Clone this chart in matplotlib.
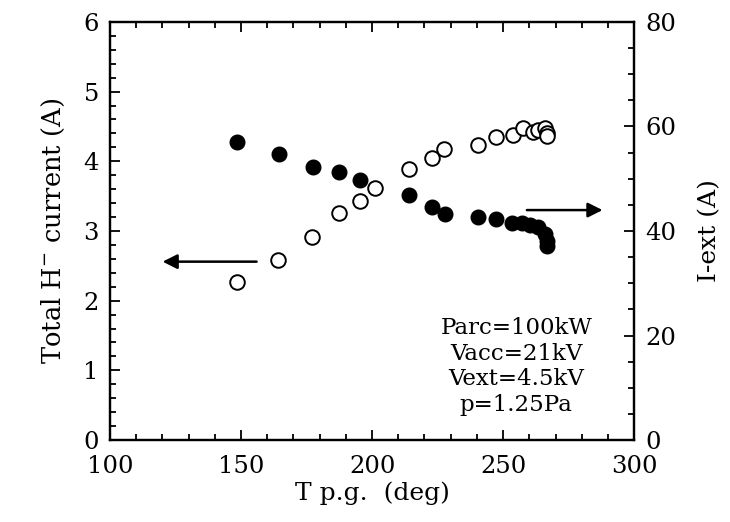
import matplotlib
matplotlib.use("Agg")
import matplotlib.pyplot as plt
from matplotlib.ticker import MultipleLocator

plt.rcParams['font.family'] = ['DejaVu Serif']
plt.rcParams['mathtext.fontset'] = 'dejavuserif'

# H- current (left axis, filled circles)
t_h = [148.3, 164.5, 177.4, 187.2, 195.2, 214.2, 223.0, 227.9, 240.3, 247.3,
       253.3, 257.1, 260.3, 263.4, 266.0, 266.7, 266.7]
h_current = [4.27, 4.10, 3.92, 3.84, 3.73, 3.51, 3.35, 3.25, 3.20, 3.17,
             3.12, 3.11, 3.09, 3.06, 2.96, 2.85, 2.78]

# extraction current (right axis, open circles)
t_ext = [148.3, 164.2, 177.1, 187.2, 195.2, 201.1, 214.2, 223.0, 227.6, 240.3,
         247.3, 253.7, 257.5, 261.3, 263.4, 266.0, 266.7, 266.7]
i_ext = [30.3, 34.4, 38.9, 43.4, 45.8, 48.3, 51.8, 53.9, 55.6, 56.5,
         57.9, 58.4, 59.7, 59.0, 59.3, 59.7, 58.8, 58.2]

conditions = ['Parc=100kW', 'Vacc=21kV', 'Vext=4.5kV', 'p=1.25Pa']

fig = plt.figure(figsize=(7.3, 5.22), dpi=100)
ax = fig.add_axes([0.1507, 0.157, 0.718, 0.801])
ax2 = ax.twinx()

ax.plot(t_h, h_current, 'o', color='black', markersize=10.5, zorder=3)
ax2.plot(t_ext, i_ext, 'o', markerfacecolor='white', markeredgecolor='black',
         markeredgewidth=1.4, markersize=10.5, zorder=3)

ax.set_xlim(100, 300)
ax.set_ylim(0, 6)
ax2.set_ylim(0, 80)

ax.xaxis.set_major_locator(MultipleLocator(50))
ax.xaxis.set_minor_locator(MultipleLocator(10))
ax.yaxis.set_major_locator(MultipleLocator(1))
ax.yaxis.set_minor_locator(MultipleLocator(0.2))
ax2.yaxis.set_major_locator(MultipleLocator(20))
ax2.yaxis.set_minor_locator(MultipleLocator(5))

ax.tick_params(which='both', direction='in', top=True, right=False,
               labelsize=17.5, width=1.3)
ax.tick_params(which='major', length=7)
ax.tick_params(which='minor', length=4)
ax2.tick_params(which='both', direction='in', labelsize=17.5, width=1.3)
ax2.tick_params(which='major', length=7)
ax2.tick_params(which='minor', length=4)
ax.tick_params(axis='x', pad=11)
ax.tick_params(axis='y', pad=8)
ax2.tick_params(axis='y', pad=8)

for sp in ax.spines.values():
    sp.set_linewidth(1.6)
for sp in ax2.spines.values():
    sp.set_linewidth(1.6)

ax.set_xlabel('T p.g.  (deg)', fontsize=18, labelpad=2)
ax.set_ylabel('Total H$^{-}$ current (A)', fontsize=18.5, labelpad=12)
ax2.set_ylabel('I-ext (A)', fontsize=18, labelpad=16)

# arrows pointing to the relevant axes
ax.annotate('', xy=(119, 2.56), xytext=(157, 2.56),
            arrowprops=dict(arrowstyle='-|>', color='black', lw=1.8,
                            mutation_scale=22))
ax.annotate('', xy=(289, 3.30), xytext=(258, 3.30),
            arrowprops=dict(arrowstyle='-|>', color='black', lw=1.8,
                            mutation_scale=22))

ax.text(255, 1.76, '\n'.join(conditions), ha='center', va='top',
        fontsize=16.5, linespacing=1.2)

fig.savefig('out.png', dpi=100)
